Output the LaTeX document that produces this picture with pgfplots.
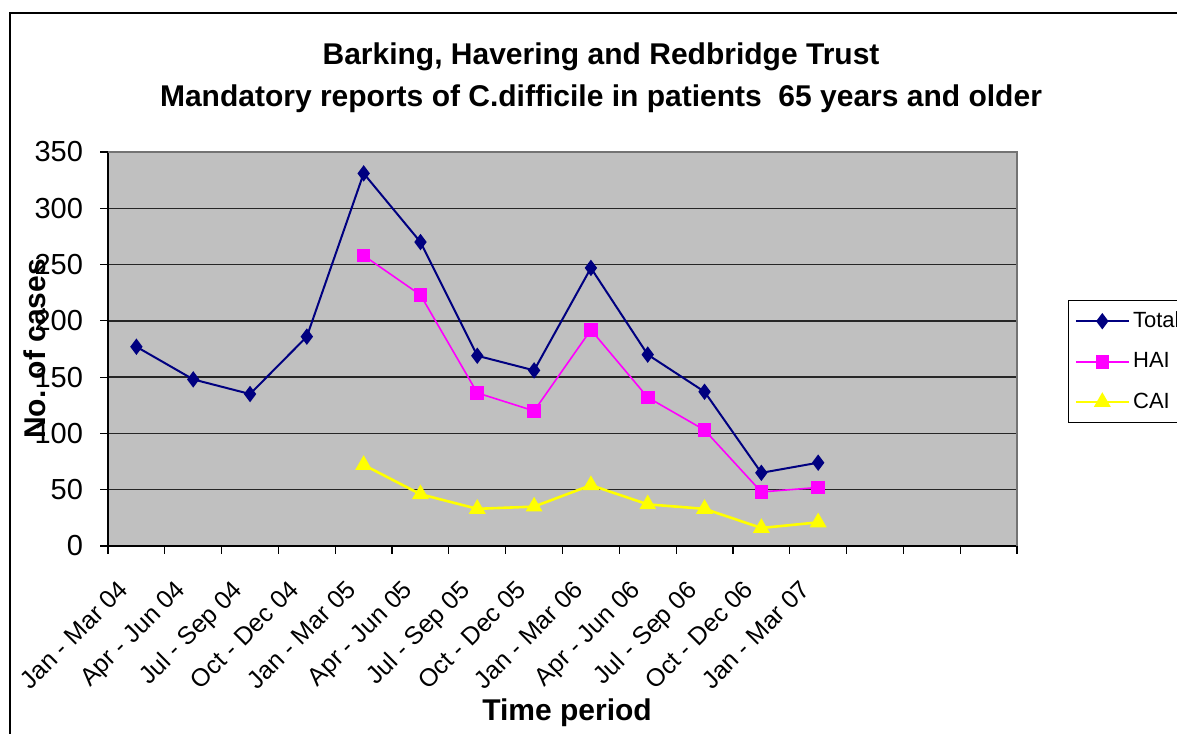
\documentclass[border=0pt]{standalone}
\usepackage{fontspec}
\setmainfont{Liberation Sans}
\usepackage{pgfplots}
\pgfplotsset{compat=1.18}
\definecolor{navyT}{HTML}{000080}
\definecolor{magH}{HTML}{FF00FF}
\definecolor{yelC}{HTML}{FFFF00}
\definecolor{plotgray}{HTML}{C0C0C0}
\begin{document}
\begin{tikzpicture}
\path[use as bounding box] (0,0) rectangle (588.5pt,366.5pt);
\draw[line width=0.7pt] (5pt,-2pt) -- (5pt,360pt) -- (600pt,360pt);
\node[anchor=base, font=\fontsize{15}{17}\selectfont\bfseries] at (300.5pt,334pt) {Barking, Havering and Redbridge Trust};
\node[anchor=base, font=\fontsize{15}{17}\selectfont\bfseries] at (300.5pt,313pt) {Mandatory reports of C.difficile in patients\ \ 65 years and older};
\begin{axis}[
  at={(54pt,93.5pt)}, anchor=south west,
  scale only axis, width=454.5pt, height=197pt,
  xmin=-0.5, xmax=15.5, ymin=0, ymax=350,
  axis background/.style={fill=plotgray},
  axis x line*=bottom, axis y line*=left,
  axis line style={black, line width=0.7pt},
  ytick={0,50,...,350},
  ymajorgrids, grid style={black!85, line width=0.7pt},
  tick align=outside,
  tick style={black, line width=0.6pt},
  /pgf/number format/assume math mode=true,
  yticklabel style={font=\fontsize{14.5}{16}\selectfont, anchor=east, xshift=-5pt},
  xtick={0,...,12},
  xticklabels={Jan - Mar 04, Apr - Jun 04, Jul - Sep 04, Oct - Dec 04, Jan - Mar 05, Apr - Jun 05, Jul - Sep 05, Oct - Dec 05, Jan - Mar 06, Apr - Jun 06, Jul - Sep 06, Oct - Dec 06, Jan - Mar 07},
  major x tick style={draw=none},
  minor xtick={-0.5,0.5,...,15.5},
  minor tick length=4pt, major tick length=4pt,
  xticklabel style={font=\fontsize{12.5}{14}\selectfont, rotate=45, anchor=north east, yshift=1.5pt, xshift=-12pt},
  xlabel={\bfseries Time period},
  xlabel style={font=\fontsize{15}{17}\selectfont, at={(axis description cs:0.505,0)}, anchor=base, yshift=-87pt},
  legend style={at={(1.056,0.624)}, anchor=north west, draw=black, line width=0.6pt, fill=white,
    font=\fontsize{11}{13}\selectfont, inner xsep=3pt, inner ysep=4pt, row sep=8pt,
    nodes={inner sep=1.5pt, anchor=west}},
  legend cell align=left,
  legend image code/.code={\draw[mark repeat=2,mark phase=2,#1] plot coordinates {(0pt,0pt) (13.25pt,0pt) (26.5pt,0pt)};},
  after end axis/.code={\draw[black!55, line width=0.7pt] (rel axis cs:0,1) -- (rel axis cs:1,1) -- (rel axis cs:1,0);},
  clip=false,
]
\addplot[navyT, line width=1pt, mark=diamond*, mark size=3.3pt, mark options={solid, fill=navyT}]
  coordinates {(0,177) (1,148) (2,135) (3,186) (4,331) (5,270) (6,169) (7,156) (8,247) (9,170) (10,137) (11,65) (12,74)};
\addlegendentry{Total}
\addplot[magH, line width=0.8pt, mark=square*, mark size=3pt, mark options={solid, fill=magH}]
  coordinates {(4,258) (5,223) (6,136) (7,120) (8,192) (9,132) (10,103) (11,48) (12,52)};
\addlegendentry{HAI}
\addplot[yelC, line width=1.3pt, mark=triangle*, mark size=3.6pt, mark options={solid, fill=yelC}]
  coordinates {(4,72) (5,46) (6,33) (7,35) (8,54) (9,37) (10,33) (11,16) (12,21)};
\addlegendentry{CAI}
\end{axis}
\node[rotate=90, anchor=base, font=\fontsize{15}{17}\selectfont\bfseries] at (22.5pt,192pt) {No. of cases};
\end{tikzpicture}
\end{document}
